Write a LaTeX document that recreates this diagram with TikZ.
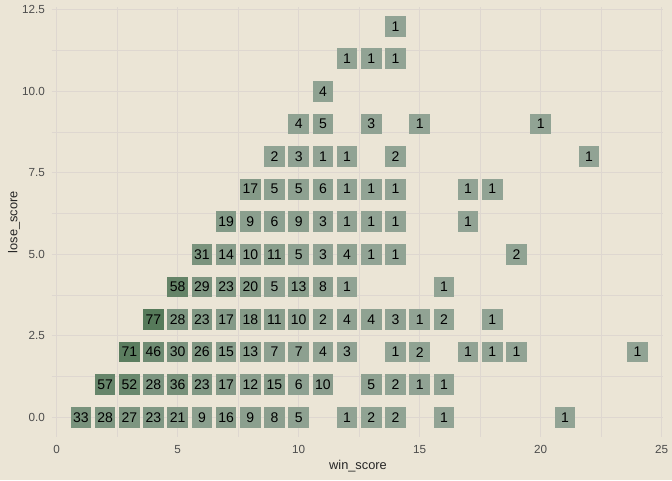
\documentclass[tikz,border=0pt]{standalone}
\usepackage{fontspec}
\setmainfont{Liberation Sans}
\usepackage{tikz}

\definecolor{panelbg}{HTML}{EBE5D6}
\definecolor{gridcol}{HTML}{DED7D0}
\definecolor{tilelo}{HTML}{91A394}
\definecolor{tilehi}{HTML}{567A5A}
\definecolor{tickcol}{HTML}{4D4D4D}

\tikzset{
  tile/.style={minimum width=20.7pt, minimum height=20.7pt, inner sep=0pt,
    font=\fontsize{14}{14}\selectfont},
  gridline/.style={draw=gridcol, line width=0.9pt},
  ticklabel/.style={text=tickcol, inner sep=0pt, font=\fontsize{11.7}{12}\selectfont},
  axistitle/.style={text=black!85, inner sep=0pt, font=\fontsize{12.8}{13}\selectfont}
}

\begin{document}
\begin{tikzpicture}[x=24.2pt, y=32.59pt]
    \fill[panelbg] (-2.343,-1.924) rectangle (25.426,12.805);
    \useasboundingbox (-2.343,-1.924) rectangle (25.426,12.805);
    % grid
    \foreach \gx in {0,2.5,...,25}
        \draw[gridline] (\gx,-0.6) -- (\gx,12.58);
    \foreach \gy in {0,1.25,...,12.5}
        \draw[gridline] (-0.2,\gy) -- (25.07,\gy);
    % ticks
    \foreach \gx in {0,5,...,25}
        \node[ticklabel] (xt\gx) at (\gx,-1.0) {\gx};
    \foreach \gy/\lab [count=\k] in {0/0.0,2.5/2.5,5/5.0,7.5/7.5,10/10.0,12.5/12.5}
        \node[ticklabel, anchor=east] (yt\k) at (-0.48,\gy) {\lab};
    \node[axistitle] (xtitle) at (12.45,-1.494) {win\_score};
    \node[axistitle, rotate=90] (ytitle) at (-1.76,5.99) {lose\_score};
    % counts
    \foreach \wx/\ly/\n in {
        1/0/33,2/0/28,3/0/27,4/0/23,5/0/21,6/0/9,7/0/16,8/0/9,9/0/8,10/0/5,12/0/1,13/0/2,14/0/2,16/0/1,21/0/1,
        2/1/57,3/1/52,4/1/28,5/1/36,6/1/23,7/1/17,8/1/12,9/1/15,10/1/6,11/1/10,13/1/5,14/1/2,15/1/1,16/1/1,
        3/2/71,4/2/46,5/2/30,6/2/26,7/2/15,8/2/13,9/2/7,10/2/7,11/2/4,12/2/3,14/2/1,15/2/2,17/2/1,18/2/1,19/2/1,24/2/1,
        4/3/77,5/3/28,6/3/23,7/3/17,8/3/18,9/3/11,10/3/10,11/3/2,12/3/4,13/3/4,14/3/3,15/3/1,16/3/2,18/3/1,
        5/4/58,6/4/29,7/4/23,8/4/20,9/4/5,10/4/13,11/4/8,12/4/1,16/4/1,
        6/5/31,7/5/14,8/5/10,9/5/11,10/5/5,11/5/3,12/5/4,13/5/1,14/5/1,19/5/2,
        7/6/19,8/6/9,9/6/6,10/6/9,11/6/3,12/6/1,13/6/1,14/6/1,17/6/1,
        8/7/17,9/7/5,10/7/5,11/7/6,12/7/1,13/7/1,14/7/1,17/7/1,18/7/1,
        9/8/2,10/8/3,11/8/1,12/8/1,14/8/2,22/8/1,
        10/9/4,11/9/5,13/9/3,15/9/1,20/9/1,
        11/10/4,
        12/11/1,13/11/1,14/11/1,
        14/12/1}
    {
        \pgfmathtruncatemacro\pct{(\n-1)*100/76}
        \node[tile, fill=tilehi!\pct!tilelo] (c\wx-\ly) at (\wx,\ly) {\n};
    }
\end{tikzpicture}
\end{document}
